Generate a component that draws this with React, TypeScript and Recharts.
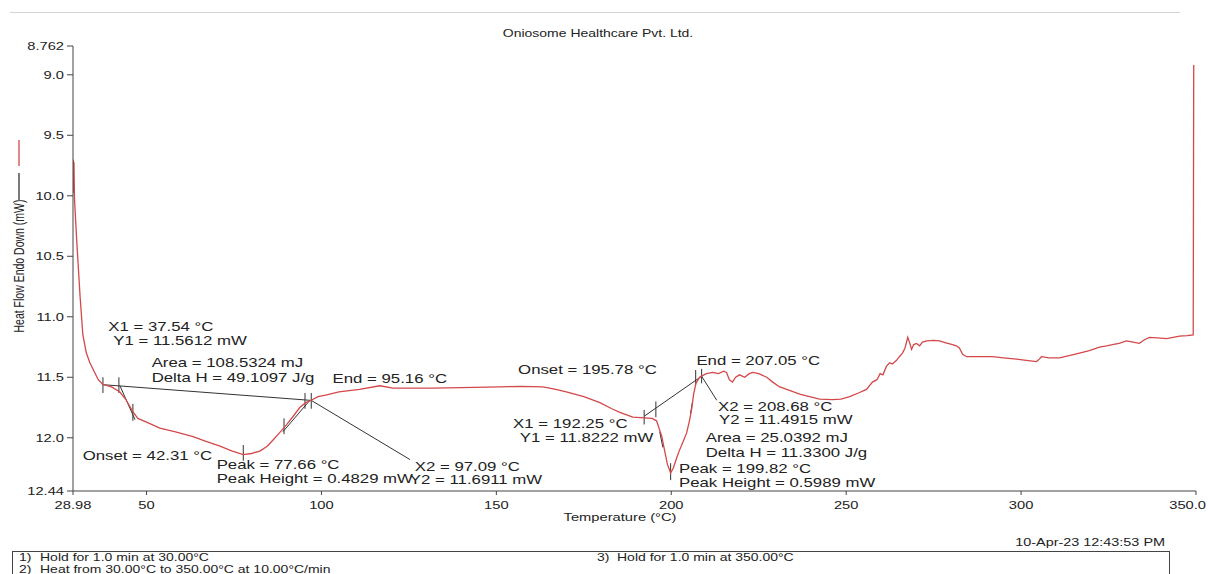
import React from "react";
import { LineChart, Line, XAxis, YAxis, ReferenceLine, ReferenceDot } from "recharts";

// DSC trace: temperature (°C) and heat flow (mW)
const temps = [
  28.98, 29.05, 29.15, 29.25, 29.4, 30.0, 31.0, 31.8, 32.8, 33.8, 35.0, 36.2, 37.54, 40.0, 42.3, 44.0,
  46.0, 47.5, 50, 53.8, 58, 63.3, 67, 71, 74.5, 77.66, 80, 82.4, 84.5, 86.1, 88, 90.1, 92, 93.8, 95.5,
  97.09, 99, 101.5, 105, 110.9, 116.7, 120.4, 125, 131.8, 140, 150.9, 157, 163.3, 167, 170, 175, 179.6,
  183, 185.3, 189, 192.25, 194.5, 195.8, 197.3, 198.2, 198.9, 199.82, 200.6, 201.5, 202.4, 203.4, 204.4,
  205.2, 205.8, 206.4, 207.05, 208.1, 208.68, 210, 211.9, 213.5, 215.0, 215.8, 216.6, 217.5, 218.4, 219.5,
  221, 222.3, 223.3, 225, 227.3, 229, 231, 234, 236.7, 239.5, 242.4, 246.1, 248.5, 251, 253.5, 255.8,
  257.5, 258.8, 259.7, 260.5, 261.5, 262.4, 263.2, 264.4, 265.2, 266.1, 266.8, 267.6, 268.2, 268.7, 269.3,
  270.1, 271, 271.8, 273, 275, 276.7, 278.5, 280.4, 281.5, 282.4, 283.3, 284.4, 288, 291.8, 295, 298.7,
  301.5, 304.4, 305.2, 305.8, 308, 311, 314, 316.7, 319.5, 322.4, 324.5, 326.1, 328, 330.1, 332, 333.8,
  335.3, 336.7, 339, 341.6, 343.5, 345.3, 347.5, 349.2, 349.35,
];
const heatFlow = [
  9.98, 9.7, 9.76, 9.72, 10.02, 10.35, 10.83, 11.15, 11.3, 11.38, 11.45, 11.52, 11.56, 11.58, 11.62, 11.68,
  11.78, 11.84, 11.87, 11.92, 11.95, 11.99, 12.03, 12.07, 12.11, 12.14, 12.13, 12.11, 12.07, 12.02, 11.96,
  11.89, 11.82, 11.75, 11.71, 11.69, 11.66, 11.645, 11.62, 11.6, 11.57, 11.59, 11.59, 11.59, 11.585, 11.58,
  11.575, 11.58, 11.6, 11.62, 11.66, 11.71, 11.76, 11.79, 11.83, 11.835, 11.84, 11.86, 11.99, 12.12, 12.22,
  12.29, 12.25, 12.17, 12.1, 12.03, 11.96, 11.86, 11.77, 11.64, 11.55, 11.5, 11.49, 11.47, 11.46, 11.47,
  11.45, 11.46, 11.52, 11.54, 11.5, 11.48, 11.5, 11.47, 11.46, 11.47, 11.5, 11.54, 11.58, 11.61, 11.64,
  11.66, 11.68, 11.685, 11.68, 11.66, 11.63, 11.6, 11.54, 11.52, 11.47, 11.48, 11.41, 11.38, 11.39, 11.36,
  11.33, 11.3, 11.26, 11.17, 11.22, 11.27, 11.23, 11.22, 11.24, 11.21, 11.2, 11.195, 11.2, 11.215, 11.23,
  11.24, 11.26, 11.31, 11.33, 11.33, 11.33, 11.34, 11.35, 11.36, 11.37, 11.35, 11.33, 11.34, 11.34, 11.32,
  11.3, 11.28, 11.25, 11.24, 11.23, 11.22, 11.2, 11.21, 11.22, 11.19, 11.17, 11.175, 11.18, 11.17, 11.16,
  11.155, 11.15, 8.92,
];

const xTicks = [28.98, 50, 100, 150, 200, 250, 300, 350];
const xTickLabels = ["28.98", "50", "100", "150", "200", "250", "300", "350.0"];
const yTicks = [8.762, 9.0, 9.5, 10.0, 10.5, 11.0, 11.5, 12.0, 12.44];
const yTickLabels = ["8.762", "9.0", "9.5", "10.0", "10.5", "11.0", "11.5", "12.0", "12.44"];

// peak analysis labels, anchored at their left baseline in data units
const noteText = [
  "X1 = 37.54 °C", "Y1 = 11.5612 mW", "Area = 108.5324 mJ", "Delta H = 49.1097 J/g", "End = 95.16 °C",
  "Onset = 42.31 °C", "Peak = 77.66 °C", "Peak Height = 0.4829 mW", "X2 = 97.09 °C", "Y2 = 11.6911 mW",
  "Onset = 195.78 °C", "X1 = 192.25 °C", "Y1 = 11.8222 mW", "End = 207.05 °C", "X2 = 208.68 °C",
  "Y2 = 11.4915 mW", "Area = 25.0392 mJ", "Delta H = 11.3300 J/g", "Peak = 199.82 °C", "Peak Height = 0.5989 mW",
];
const noteX = [
  39.07, 40.49, 51.47, 51.47, 103.18, 31.75, 70.04, 70.04, 126.69, 125.27,
  156.21, 154.78, 156.69, 207.18, 213.35, 213.64, 209.84, 209.84, 202.21, 202.21,
];
const noteY = [
  11.121, 11.236, 11.418, 11.537, 11.548, 12.182, 12.259, 12.377, 12.273, 12.383,
  11.474, 11.92, 12.033, 11.397, 11.777, 11.887, 12.038, 12.157, 12.289, 12.41,
];

// baselines, tangents, leaders and tick marks: [x1, y1, x2, y2]
const segments = [
  [37.54, 11.5612, 97.09, 11.6911],
  [97.09, 11.6911, 125.3, 12.18],
  [42.4, 11.57, 46.7, 11.85],
  [89.0, 11.95, 96.7, 11.69],
  [37.54, 11.5, 37.54, 11.63],
  [42.1, 11.5, 42.1, 11.63],
  [46.1, 11.72, 46.1, 11.86],
  [77.66, 12.06, 77.66, 12.19],
  [89.3, 11.84, 89.3, 11.97],
  [95.3, 11.63, 95.3, 11.76],
  [97.09, 11.63, 97.09, 11.76],
  [192.25, 11.8222, 208.68, 11.4915],
  [196.7, 11.95, 197.6, 12.08],
  [205.5, 11.8, 206.1, 11.7],
  [208.68, 11.4915, 213.0, 11.69],
  [192.25, 11.77, 192.25, 11.89],
  [195.6, 11.7, 195.6, 11.83],
  [206.98, 11.44, 206.98, 11.56],
  [208.68, 11.43, 208.68, 11.55],
  [199.82, 12.21, 199.82, 12.35],
];

const data = temps.map((t, i) => ({ t, hf: heatFlow[i] }));

const FONT = "'Liberation Sans', Arial, sans-serif";
const INK = "#222";
const SX = 1.4; // the scan is stretched sideways, so is the lettering

function Wide({ x, y, size, anchor = "start", rotate = false, children }: any) {
  const t = `translate(${x},${y}) scale(${SX},1)${rotate ? " rotate(-90)" : ""}`;
  return (
    <text transform={t} fontSize={size} textAnchor={anchor} fill={INK} fontFamily={FONT}>
      {children}
    </text>
  );
}

const XTick = (p: any) => {
  const i = xTicks.indexOf(p.payload.value);
  // last label sits at the page edge; keep it inside
  if (i === xTicks.length - 1) {
    return <Wide x={p.x + 10} y={p.y + 12} size={10.5} anchor="end">{xTickLabels[i]}</Wide>;
  }
  return <Wide x={p.x} y={p.y + 12} size={10.5} anchor="middle">{xTickLabels[i]}</Wide>;
};

const YTick = (p: any) => {
  const i = yTicks.indexOf(p.payload.value);
  return <Wide x={p.x - 1} y={p.y + 4} size={10.5} anchor="end">{yTickLabels[i]}</Wide>;
};

export default function App() {
  return (
    <div style={{ position: "fixed", left: 0, top: 0, width: 1208, height: 574, overflow: "hidden", background: "#fff" }}>
      <LineChart width={1208} height={574} data={data} margin={{ top: 46, right: 12, bottom: 53, left: 13 }}>
        <XAxis
          dataKey="t"
          type="number"
          domain={[28.98, 350]}
          ticks={xTicks}
          interval={0}
          allowDataOverflow
          height={30}
          tickSize={4}
          stroke="#444"
          tick={XTick}
        />
        <YAxis
          type="number"
          domain={[8.762, 12.44]}
          reversed
          ticks={yTicks}
          interval={0}
          allowDataOverflow
          width={60}
          tickSize={6}
          stroke="#444"
          tick={YTick}
        />
        {segments.map((s, i) => (
          <ReferenceLine
            key={"s" + i}
            segment={[{ x: s[0], y: s[1] }, { x: s[2], y: s[3] }]}
            stroke="#333"
            strokeWidth={1}
            ifOverflow="visible"
          />
        ))}
        <Line
          dataKey="hf"
          type="linear"
          stroke="#d4484a"
          strokeWidth={1.3}
          dot={false}
          activeDot={false}
          isAnimationActive={false}
        />
        {noteText.map((txt, i) => (
          <ReferenceDot
            key={"n" + i}
            x={noteX[i]}
            y={noteY[i]}
            r={0}
            ifOverflow="visible"
            shape={(p: any) => <Wide x={p.cx} y={p.cy} size={12}>{txt}</Wide>}
          />
        ))}
      </LineChart>

      <svg width={1208} height={574} style={{ position: "absolute", left: 0, top: 0, pointerEvents: "none" }}>
        <line x1={10} y1={12.5} x2={1180} y2={12.5} stroke="#d4d4d4" strokeWidth={1} />
        <Wide x={598} y={37} size={10} anchor="middle">Oniosome Healthcare Pvt. Ltd.</Wide>
        <line x1={19} y1={140} x2={19} y2={166} stroke="#d4484a" strokeWidth={1.3} />
        <line x1={19} y1={173} x2={19} y2={200} stroke="#333" strokeWidth={1.3} />
        <Wide x={24} y={266} size={10.5} anchor="middle" rotate>Heat Flow Endo Down (mW)</Wide>
        <Wide x={620} y={521} size={10.5} anchor="middle">Temperature (°C)</Wide>
        <Wide x={1165} y={546} size={10.3} anchor="end">10-Apr-23 12:43:53 PM</Wide>
        <rect x={12.5} y={551.5} width={1157} height={40} fill="none" stroke="#444" strokeWidth={1} />
        <Wide x={19} y={561} size={10}>1)</Wide>
        <Wide x={40} y={561} size={10}>Hold for 1.0 min at 30.00°C</Wide>
        <Wide x={19} y={573} size={10}>2)</Wide>
        <Wide x={40} y={573} size={10}>Heat from 30.00°C to 350.00°C at 10.00°C/min</Wide>
        <Wide x={597} y={561} size={10}>3)</Wide>
        <Wide x={617} y={561} size={10}>Hold for 1.0 min at 350.00°C</Wide>
      </svg>
    </div>
  );
}
